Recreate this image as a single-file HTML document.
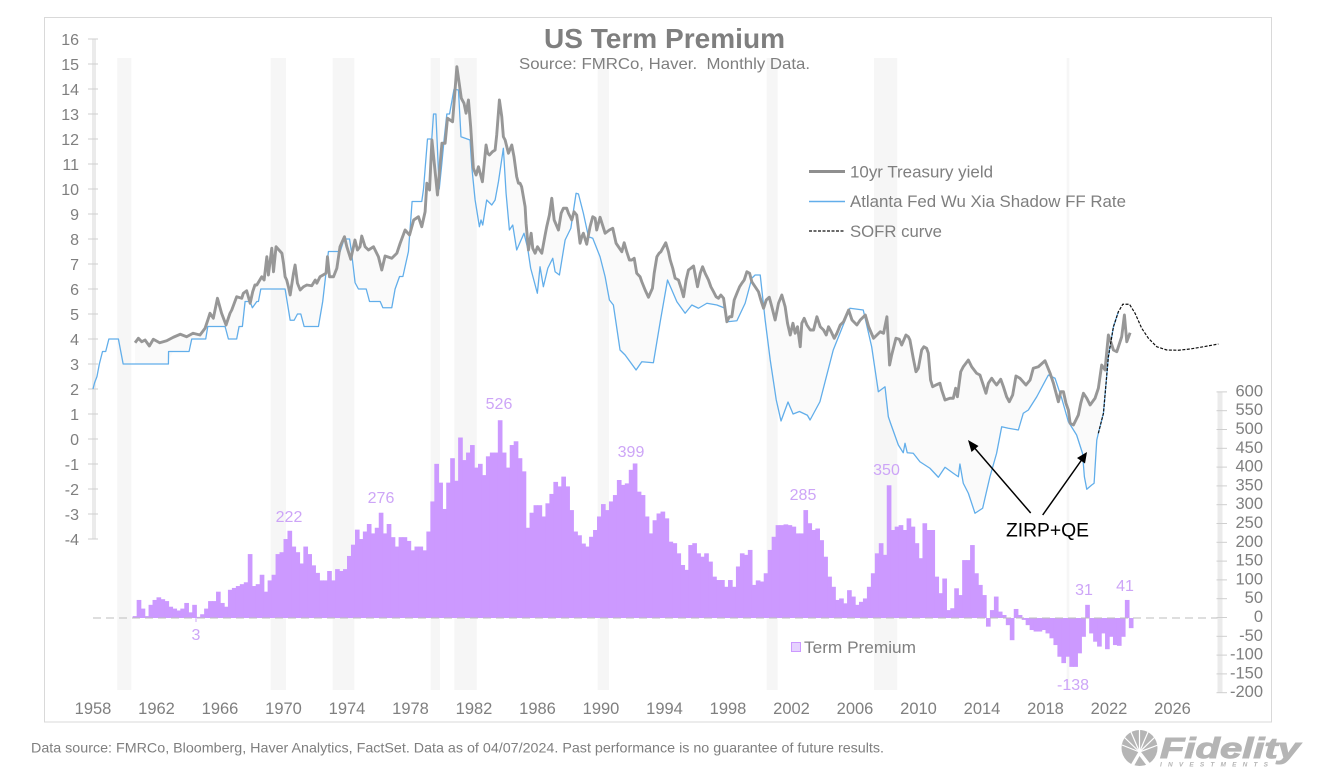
<!DOCTYPE html>
<html lang="en">
<head>
<meta charset="utf-8">
<title>US Term Premium</title>
<style>
html,body{margin:0;padding:0;background:#fff}
svg{display:block;font-family:"Liberation Sans",Arial,sans-serif}
</style>
</head>
<body>
<svg id="chart" width="1327" height="775" viewBox="0 0 1327 775">
  <rect x="44.5" y="17.5" width="1227" height="704.5" fill="#fff" stroke="#d9d9d9"/>
  <g id="bands"></g>
  <g id="spread"></g>
  <g id="bars"></g>
  <g id="axes"></g>
  <g id="lines"></g>

  <text x="664.5" y="48" text-anchor="middle" font-size="27.8" font-weight="bold" fill="#7f7f7f" textLength="241" lengthAdjust="spacingAndGlyphs">US Term Premium</text>
  <text x="664.5" y="69" text-anchor="middle" font-size="15.8" fill="#7f7f7f" xml:space="preserve" textLength="291" lengthAdjust="spacingAndGlyphs">Source: FMRCo, Haver.  Monthly Data.</text>

  <g>
    <line x1="809" x2="845" y1="171.5" y2="171.5" stroke="#8f8f8f" stroke-width="3"/>
    <text x="850" y="177.5" font-size="16.7" fill="#7f7f7f" textLength="143" lengthAdjust="spacingAndGlyphs">10yr Treasury yield</text>
    <line x1="809" x2="845" y1="201.5" y2="201.5" stroke="#62aeea" stroke-width="1.5"/>
    <text x="850" y="207" font-size="16.7" fill="#7f7f7f" textLength="276" lengthAdjust="spacingAndGlyphs">Atlanta Fed Wu Xia Shadow FF Rate</text>
    <line x1="809" x2="845" y1="231" y2="231" stroke="#111" stroke-width="1.3" stroke-dasharray="3 1.5"/>
    <text x="850" y="237" font-size="16.7" fill="#7f7f7f" textLength="92" lengthAdjust="spacingAndGlyphs">SOFR curve</text>
  </g>

  <g font-size="16" fill="#cda5f7" text-anchor="middle">
    <text x="289" y="522">222</text>
    <text x="381" y="503">276</text>
    <text x="499" y="409">526</text>
    <text x="631" y="457">399</text>
    <text x="803" y="500">285</text>
    <text x="886.5" y="475">350</text>
    <text x="1084" y="595">31</text>
    <text x="1125" y="591">41</text>
    <text x="1073" y="690">-138</text>
    <text x="196" y="640">3</text>
  </g>
  <line x1="196" x2="196" y1="618" y2="622" stroke="#cda5f7"/>

  <g>
    <rect x="791.5" y="642.5" width="9" height="9" fill="#e6d2ff" stroke="#cc99ff"/>
    <text x="804" y="653" font-size="16.8" fill="#7f7f7f" textLength="112" lengthAdjust="spacingAndGlyphs">Term Premium</text>
  </g>

  <g>
    <line x1="1030.7" y1="513" x2="972" y2="445" stroke="#000" stroke-width="1.5"/>
    <polygon points="968,440 978.5,446 971.5,452" fill="#000"/>
    <line x1="1042.7" y1="515" x2="1083" y2="458" stroke="#000" stroke-width="1.5"/>
    <polygon points="1087,452 1085,463.5 1077,458" fill="#000"/>
    <text x="1047.5" y="536.5" text-anchor="middle" font-size="19.3" fill="#000">ZIRP+QE</text>
  </g>

  <text x="31" y="752.5" font-size="13.8" fill="#7f7f7f" textLength="853" lengthAdjust="spacingAndGlyphs">Data source: FMRCo, Bloomberg, Haver Analytics, FactSet. Data as of 04/07/2024. Past performance is no guarantee of future results.</text>

  <g>
    <circle cx="1139.5" cy="748" r="18" fill="#b5b5b5"/>
    <g stroke="#fff" stroke-width="1.2">
      <line x1="1139.5" y1="752" x2="1122" y2="745"/>
      <line x1="1139.5" y1="752" x2="1124" y2="737"/>
      <line x1="1139.5" y1="752" x2="1131" y2="732"/>
      <line x1="1139.5" y1="752" x2="1139.5" y2="730"/>
      <line x1="1139.5" y1="752" x2="1148" y2="732"/>
      <line x1="1139.5" y1="752" x2="1155" y2="737"/>
      <line x1="1139.5" y1="752" x2="1158" y2="745"/>
    </g>
    <polygon points="1139.5,750 1130,766 1134,766 1139.5,756 1147,766 1152,766" fill="#fff"/>
    <text x="1160" y="758" font-size="29" font-weight="bold" font-style="italic" fill="#b5b5b5" stroke="#b5b5b5" stroke-width="1" textLength="140" lengthAdjust="spacingAndGlyphs">Fidelity</text>
    <text x="1160" y="766.5" font-size="6.5" font-weight="bold" font-style="italic" fill="#b5b5b5" textLength="108">INVESTMENTS</text>
  </g>
</svg>

<script>
const yearTicks = [1958,1962,1966,1970,1974,1978,1982,1986,1990,1994,1998,2002,2006,2010,2014,2018,2022,2026];
const leftTicks = [16,15,14,13,12,11,10,9,8,7,6,5,4,3,2,1,0,-1,-2,-3,-4];
const rightTicks = [600,550,500,450,400,350,300,250,200,150,100,50,0,-50,-100,-150,-200];

const recessionStarts = [1959.53,1969.19,1973.10,1979.27,1980.76,1989.79,2000.44,2007.20,2019.33];
const recessionEnds   = [1960.41,1970.16,1974.46,1979.86,1982.17,1990.50,2001.13,2008.66,2019.50];

const yieldYears = [1960.65,1960.86,1961.07,1961.28,1961.55,1961.8,1962.2,1962.64,1963.06,1963.5,1963.9,1964.3,1964.74,1965.06,1965.37,1965.58,1965.84,1966.1,1966.38,1966.63,1967.05,1967.37,1967.68,1967.9,1968.2,1968.63,1968.95,1969.05,1969.26,1969.37,1969.53,1969.9,1970.2,1970.42,1970.73,1971.05,1971.47,1971.78,1972,1972.3,1972.68,1972.77,1973.15,1973.56,1973.84,1974.24,1974.5,1974.66,1974.93,1975.35,1975.67,1975.98,1976.19,1976.4,1976.82,1977.14,1977.35,1977.66,1977.94,1978.2,1978.5,1978.71,1978.92,1979.03,1979.2,1979.35,1979.7,1979.98,1980.18,1980.33,1980.65,1980.92,1981.2,1981.5,1981.65,1981.96,1982.28,1982.53,1982.76,1982.97,1983.33,1983.6,1983.85,1984.17,1984.38,1984.69,1984.8,1985,1985.22,1985.43,1985.6,1985.85,1986.27,1986.58,1986.9,1987.05,1987.32,1987.63,1987.95,1988.3,1988.68,1988.89,1989.1,1989.48,1989.73,1989.94,1990.26,1990.74,1991.1,1991.46,1991.79,1992.09,1992.46,1992.78,1992.99,1993.24,1993.52,1993.77,1994.08,1994.36,1994.67,1995.2,1995.51,1995.83,1996.08,1996.4,1996.77,1997.09,1997.4,1997.72,1997.93,1998.24,1998.56,1998.87,1999.19,1999.5,1999.92,2000.24,2000.6,2000.97,2001.39,2001.6,2001.92,2002.09,2002.55,2002.8,2003.18,2003.6,2004.02,2004.33,2004.69,2005.07,2005.6,2006.12,2006.65,2007.17,2007.59,2008.01,2008.18,2008.58,2008.94,2009.21,2009.46,2009.84,2010.34,2010.62,2010.89,2011.35,2011.67,2012.19,2012.45,2012.66,2013.14,2013.66,2014.25,2014.61,2014.92,2015.18,2015.72,2016.14,2016.77,2017.23,2017.97,2018.29,2018.81,2019.13,2019.44,2019.76,2020.39,2020.81,2021.33,2021.54,2021.75,2021.96,2022.28,2022.49,2022.8,2022.97,2023.12,2023.33];
const yieldValues = [3.85,4.03,3.89,3.96,3.72,3.99,3.85,3.93,4.07,4.19,4.09,4.23,4.16,4.43,5.03,4.83,5.63,5.03,4.56,5.03,5.69,5.63,5.93,5.43,6.16,6.49,7.29,6.56,7.63,6.69,7.69,7.43,6.36,5.76,6.96,5.96,6.16,6.13,6.36,6.49,6.63,7.29,6.49,7.69,8.09,7.19,7.96,7.56,8.12,7.56,7.69,7.29,6.76,7.32,7.23,7.43,7.83,8.36,8.16,8.76,8.89,8.49,9.09,10.23,9.96,11.96,9.76,11.83,11.83,12.83,12.69,14.89,13.63,13.03,13.56,10.83,10.89,10.29,11.76,11.36,11.56,13.56,12.09,11.43,11.76,10.49,10.23,10.09,9.29,7.56,8.23,7.43,7.43,8.49,9.63,8.76,8.36,9.23,9.03,9.09,7.83,8.23,7.79,8.89,8.36,8.87,8.23,8.43,7.69,7.85,7.16,7.23,6.49,5.96,5.67,6.03,7.29,7.49,7.85,7.16,6.43,5.69,6.76,6.92,6.09,6.89,6.36,5.89,5.63,5.63,4.69,4.89,5.83,6.23,6.69,6.29,5.89,5.23,5.67,4.76,5.76,5.29,4.16,4.63,3.69,4.83,4.36,4.89,4.36,4.49,4.03,4.56,5.16,4.56,4.96,4.03,4.29,4.89,2.96,4.03,3.76,4.16,3.96,2.69,3.69,3.43,2.09,2.23,1.56,1.63,1.69,2.69,3.16,2.63,1.83,2.43,2.16,2.39,1.49,2.52,2.16,2.83,3.13,2.63,1.49,1.89,1.16,0.56,1.83,1.36,2.03,2.96,2.76,4.16,3.56,3.49,4.09,4.96,3.89,4.25];

const yieldExtraYears = [1965.27,1966.74,1967.47,1968.06,1968.32,1968.78,1970,1970.1,1970.31,1970.63,1970.88,1971.26,1972.1,1972.9,1973.36,1973.99,1974.82,1975.14,1981.37,1981.79,1982.13,1982.42,1982.86,1983.16,1983.43,1983.75,1983.96,1984.52,1984.9,1985.28,1985.7,1986,1986.48,1986.75,1987.49,1987.84,1988.16,1988.47,1988.79,1989.31,1989.63,1990.53,1990.95,1991.31,1991.62,1991.94,1992.25,1992.57,1993.35,1993.66,1994.25,1994.52,1994.88,1995.05,1995.36,1995.66,1996.25,1996.56,1996.92,1997.25,1997.55,1998.09,1998.39,1998.73,1999.02,1999.36,1999.71,2000.07,2000.41,2000.76,2001.18,2001.75,2002.23,2002.38,2002.65,2002.97,2003.39,2003.81,2004.19,2004.5,2004.86,2005.28,2005.81,2006.33,2006.86,2007.38,2007.8,2008.31,2008.79,2009.36,2009.67,2009.99,2010.2,2010.51,2010.76,2011.1,2011.46,2011.98,2012.34,2012.82,2013.35,2013.87,2014.4,2014.76,2015.35,2015.55,2015.93,2016.39,2017.03,2017.55,2018.5,2018.96,2019.29,2019.55,2020.07,2020.22,2020.6,2021.12,2022.11];
const yieldExtraValues = [4.83,5.16,5.83,5.89,6.16,6.36,7.03,6.49,6.09,6.63,6.23,6.09,6.23,6.49,6.83,7.69,7.69,7.69,13.43,12.49,10.56,10.56,11.43,11.49,12.16,12.89,11.96,11.29,10.23,8.63,7.63,7.69,8.16,8.96,9.03,9.23,8.76,8.96,8.09,8.49,8.83,8.36,7.83,7.49,7.49,7.16,6.63,6.29,6.63,7.43,7.49,6.83,6.36,6.03,6.36,6.83,6.63,6.63,6.09,5.69,5.76,4.89,5.56,6.09,6.36,6.63,6.09,5.56,5.56,5.29,5.43,4.63,4.23,4.49,4.63,4.56,4.36,4.49,4.16,4.29,4.23,4.69,4.76,4.76,4.49,4.16,4.23,3.36,3.99,4.09,3.23,2.83,3.56,3.63,2.36,2.16,1.96,1.63,2.03,2.89,2.89,2.56,2.23,2.29,2.09,1.69,1.76,2.43,2.36,2.89,2.23,1.89,1.43,0.63,0.96,1.43,1.63,1.63,3.89];

const shadowYears = [1958,1958.1,1958.25,1958.4,1958.6,1958.8,1959,1959.6,1959.75,1959.9,1962.75,1962.76,1964.05,1964.22,1965.1,1965.23,1966.32,1966.53,1967.05,1967.2,1967.41,1967.58,1967.89,1968.04,1968.32,1968.42,1968.57,1970.1,1970.42,1970.67,1970.88,1971.09,1971.3,1972.2,1972.47,1972.83,1973.57,1973.82,1974.16,1974.28,1974.51,1974.72,1975.21,1975.42,1976.09,1976.26,1976.82,1977.03,1977.31,1977.52,1977.87,1978.1,1978.71,1978.82,1979.07,1979.34,1979.45,1979.6,1979.81,1979.97,1980.12,1980.29,1980.46,1980.74,1981.02,1981.18,1981.75,1981.86,1982.07,1982.34,1982.44,1982.55,1982.8,1983.12,1983.33,1983.54,1983.85,1984.02,1984.23,1984.44,1984.69,1985.15,1985.38,1985.57,1985.99,1986.16,1986.37,1986.65,1986.96,1987.11,1987.38,1987.74,1988.1,1988.43,1988.58,1988.89,1989.21,1989.48,1989.94,1990.26,1990.53,1990.78,1991.2,1991.52,1992.21,1992.57,1993.3,1993.73,1994.19,1994.78,1995.3,1995.72,1996.14,1996.67,1997.3,1997.82,1997.97,1998.56,1999.08,1999.5,1999.71,2000.03,2000.34,2000.66,2001.04,2001.34,2001.78,2002.1,2002.5,2003,2003.17,2003.79,2004.63,2005.68,2006.52,2007.05,2007.47,2007.89,2008.1,2008.24,2008.73,2009.04,2009.15,2009.29,2009.67,2010.09,2010.72,2011.25,2011.67,2012.19,2012.51,2012.61,2012.82,2013.14,2013.56,2014.04,2014.5,2014.92,2015.24,2015.66,2016.29,2016.6,2016.92,2017.45,2018.18,2018.6,2019.02,2019.44,2019.96,2020.33,2020.45,2020.6,2020.91,2021.06,2021.23,2021.33,2021.65,2021.96,2022.28,2022.59];
const shadowValues = [2,2.25,2.5,3,3.5,3.5,4,4,3.5,3,3,3.5,3.5,4,4,4.5,4.5,4,4,4.5,4.5,5.5,5.5,5.25,5.5,5.5,6,6,4.75,4.75,5,5,4.5,4.5,5.5,7.5,7.5,8,8,7.5,6.25,6,6,5.5,5.5,5.25,5.25,6,6.5,6.5,7.5,9.5,9.5,10,12,12,13,13,10,11,12,13,13,13.99,13.96,12.09,11.96,10.89,9.56,8.49,8.76,8.56,9.56,9.36,9.56,10.29,11.63,9.83,8.36,8.56,7.56,8.23,7.63,6.83,5.83,6.89,6.09,6.83,7.23,6.69,6.56,7.96,8.43,9.83,9.8,9.03,8.09,8.03,7.29,6.49,5.56,5.36,3.56,3.36,2.76,3.09,3.05,4.69,6.36,5.49,5.03,5.36,5.23,5.43,5.36,5.23,4.69,4.73,5.43,6.43,6.56,6.56,4.76,3.16,1.56,0.72,1.48,1,1.1,0.95,0.76,1.49,3.56,5.23,5.16,3.69,1.89,2.09,0.89,0.63,-0.24,-0.55,-0.17,-0.55,-0.57,-0.91,-1.17,-1.53,-1.13,-1.37,-1.51,-1,-1.77,-2.17,-2.97,-2.77,-1.51,-0.57,0.49,0.43,0.36,1.03,1.16,1.69,2.56,2.43,1.63,0.69,0.16,-0.57,-1.51,-2.01,-1.84,-1.77,-0.04,0.23,1.03,3.29,4.49,5.09];

const sofrYears = [2021.33,2021.65,2021.96,2022.28,2022.59,2022.87,2023.29,2023.64,2024.06,2024.48,2025.01,2025.64,2026.37,2027.1,2027.95,2028.89];
const sofrValues = [0.23,1.03,3.29,4.49,5.09,5.39,5.39,5.03,4.43,4.03,3.69,3.56,3.55,3.6,3.69,3.8];

const premiumFirstYear = 1960.5;
const premiumStepYears = 0.25;
const premiumValues = [5,48,
25,5,35,48, 55,50,45,30, 25,20,25,40, 15,35,3,10,
25,45,45,70, 40,30,75,80, 85,90,95,170, 85,90,115,70,
100,115,170,175, 210,232,190,175, 145,190,170,140, 120,100,100,125,
100,130,125,130, 165,195,235,210, 230,250,225,240, 280,225,250,215,
190,215,215,205, 180,190,190,180, 230,310,410,360, 290,360,425,365,
480,420,440,460, 400,410,380,430, 440,440,526,440, 400,460,470,425,
390,240,280,300, 300,270,305,330, 362,350,376,350, 287,230,220,198,
190,216,234,270, 303,287,310,327, 367,354,358,394, 411,336,327,270,
225,260,278,283, 265,203,199,172, 141,128,194,199, 172,163,172,150,
110,101,101,83, 101,83,137,172, 168,181,88,100, 97,119,181,216,
247,247,249,247, 243,225,225,287, 252,234,238,207, 163,110,83,48,
52,39,74,57, 35,43,52,83, 119,172,199,168, 353,234,243,247,
234,265,243,199, 159,252,234,234, 110,66,105,21, 26,79,61,154,
154,194,119,88, 61,-23,21,57, 17,8,-19,-59, 24,8,-5,-19,
-32,-36,-36,-32, -41,-54,-72,-103, -120,-103,-130,-130, -94,-50,35,-41,
-63,-76,-41,-83, -50,-72,-74,-50, 48,-27];

const NS = 'http://www.w3.org/2000/svg';
const xScale = y => 93 + (y - 1958) * 15.875;
const yLeft = v => 39 + (16 - v) * 25;
const yRight = v => 617.5 - v * 0.376;
const yBar = v => 618 - v * 0.376;

function make(tag, parent, attrs) {
  const el = document.createElementNS(NS, tag);
  for (const k in attrs) el.setAttribute(k, attrs[k]);
  parent.appendChild(el);
  return el;
}

const bandsG = document.getElementById('bands');
recessionStarts.forEach((s, i) => {
  const r = make('rect', bandsG, {x: xScale(s), y: 58, width: xScale(recessionEnds[i]) - xScale(s), height: 632, fill: '#f6f6f6'});
  
  
});

function interp(xs, ys, x) {
  if (x <= xs[0]) return ys[0];
  for (let i = 1; i < xs.length; i++) {
    if (x <= xs[i]) {
      const t = (x - xs[i - 1]) / (xs[i] - xs[i - 1]);
      return ys[i - 1] + t * (ys[i] - ys[i - 1]);
    }
  }
  return ys[ys.length - 1];
}

const yieldPairs = yieldYears.map((y, i) => [y, yieldValues[i]])
  .concat(yieldExtraYears.map((y, i) => [y, yieldExtraValues[i]]))
  .sort((a, b) => a[0] - b[0]);
const yieldXs = yieldPairs.map(p => p[0]);
const yieldYs = yieldPairs.map(p => p[1]);

const upper = yieldPairs.map(p => xScale(p[0]) + ',' + yLeft(p[1]));
const lower = yieldPairs.slice().reverse().map(p => xScale(p[0]) + ',' + yLeft(Math.min(p[1], interp(shadowYears, shadowValues, p[0]))));
const spreadEl = make('polygon', document.getElementById('spread'), {points: upper.concat(lower).join(' '), fill: '#fafafa'});



const barsG = document.getElementById('bars');
const barW = premiumStepYears * 15.875;
premiumValues.forEach((v, i) => {
  const yr = premiumFirstYear + i * premiumStepYears;
  const top = Math.min(yBar(v), yBar(0));
  const b = make('rect', barsG, {x: xScale(yr), y: top, width: barW + 0.7, height: Math.abs(yBar(v) - yBar(0)), fill: '#cc99ff'});
  
  
});

const axesG = document.getElementById('axes');
const zeroLine = make('line', axesG, {x1: 93, x2: 1220, y1: yBar(0), y2: yBar(0), stroke: '#bdbdbd', 'stroke-dasharray': '8 5'});



const leftAxis = make('line', axesG, {x1: 94, x2: 94, y1: yLeft(16), y2: yLeft(-4), stroke: '#ebebeb', 'stroke-width': 4});


leftTicks.forEach(v => {
  const t = make('line', axesG, {x1: 88, x2: 98, y1: yLeft(v), y2: yLeft(v), stroke: '#cfcfcf'});
  
  
  const l = make('text', axesG, {x: 79, y: yLeft(v) + 6, 'text-anchor': 'end', 'font-size': 16, fill: '#7f7f7f'});
  l.textContent = v;
  
  
});

const rightAxis = make('line', axesG, {x1: 1220, x2: 1220, y1: yRight(600), y2: yRight(-200), stroke: '#ebebeb', 'stroke-width': 5});


rightTicks.forEach(v => {
  const t = make('line', axesG, {x1: 1216.5, x2: 1227, y1: yRight(v), y2: yRight(v), stroke: '#cfcfcf'});
  
  
  const l = make('text', axesG, {x: 1263, y: yRight(v) + 4.5, 'text-anchor': 'end', 'font-size': 16.5, fill: '#7f7f7f'});
  l.textContent = v;
  
  
});

yearTicks.forEach(y => {
  const l = make('text', axesG, {x: xScale(y), y: 714, 'text-anchor': 'middle', 'font-size': 16.5, fill: '#7f7f7f'});
  l.textContent = y;
  
  
});

const path = (xs, ys) => xs.map((x, i) => (i ? 'L' : 'M') + xScale(x).toFixed(2) + ' ' + yLeft(ys[i]).toFixed(2)).join('');
const linesG = document.getElementById('lines');
const shadowLine = make('path', linesG, {d: path(shadowYears, shadowValues), fill: 'none', stroke: '#62aeea', 'stroke-width': 1.3, 'stroke-linejoin': 'round'});


const yieldLine = make('path', linesG, {d: path(yieldXs, yieldYs), fill: 'none', stroke: '#979797', 'stroke-width': 2.9, 'stroke-linejoin': 'round'});


const sofrLine = make('path', linesG, {d: path(sofrYears, sofrValues), fill: 'none', stroke: '#111', 'stroke-width': 1.2, 'stroke-dasharray': '3 1.5'});


</script>
</body>
</html>
